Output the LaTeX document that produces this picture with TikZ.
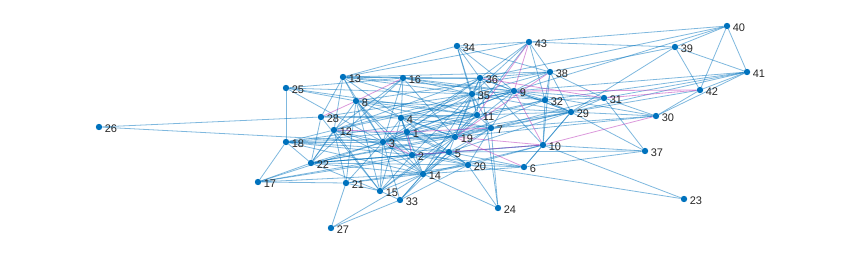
\documentclass[tikz,border=0pt]{standalone}
\usepackage{fontspec}
\setmainfont{Liberation Sans}
\usetikzlibrary{backgrounds}
\definecolor{nodeblue}{RGB}{0,114,189}
\definecolor{edgemag}{RGB}{190,70,190}
\begin{document}
\begin{tikzpicture}[x=1pt,y=-1pt,
  vtx/.style={circle,fill=nodeblue,inner sep=0pt,minimum size=6.4pt},
  lab/.style={font=\fontsize{11}{12}\selectfont,inner sep=0pt,anchor=west,text=black!85},
  edge/.style={draw=nodeblue,line width=0.8pt,draw opacity=0.5},
  medge/.style={draw=edgemag,line width=0.8pt,draw opacity=0.55}]
\useasboundingbox (0,0) rectangle (846,259);
\foreach \n/\x/\y in {1/407/132, 2/412/155, 3/383/142, 4/401/118, 5/449/152, 6/524/167,
  7/491/128, 8/356/101, 9/514/91, 10/543/145, 11/477/115, 12/334/130, 13/343/77,
  14/423/174, 15/380/191, 16/403/78, 17/258/182, 18/286/142, 19/455/137, 20/468/165,
  21/346/183, 22/311/163, 23/684/199, 24/498/208, 25/286/88, 26/99/127, 27/331/228,
  28/321/117, 29/571/112, 30/656/116, 31/604/98, 32/545/100, 33/400/200, 34/457/46,
  35/472/94, 36/480/78, 37/645/151, 38/550/72, 39/675/47, 40/727/26, 41/747/72,
  42/700/90, 43/529/42}{
  \node[vtx] (n\n) at (\x,\y) {};
  \node[lab] (l\n) at (\x+5.6,\y+1.4) {\n};
}
\begin{pgfonlayer}{background}
\foreach \a/\b in {26/28, 3/26,
  17/18, 17/22, 2/17, 14/17, 5/17, 3/17, 17/21,
  27/21, 27/33, 27/14,
  25/18, 25/35, 25/16, 25/8, 25/11, 25/3,
  34/43, 34/36, 34/35, 34/11, 34/38, 13/34, 34/9,
  43/40, 43/39, 43/38, 43/36, 43/35, 43/13, 43/19, 43/32,
  40/39, 40/41, 40/42, 40/36, 40/9,
  39/38, 39/42, 39/41, 39/29,
  41/42, 41/30, 41/29, 41/31, 41/32, 41/9,
  42/30, 42/29,
  30/29, 30/31, 30/19, 30/7, 30/9,
  37/29, 37/31, 37/6, 37/10, 37/5,
  23/10, 23/20,
  24/7, 24/14, 24/20, 24/36,
  38/36, 38/9, 38/32, 38/29, 38/13, 38/35, 38/8, 38/10, 38/31,
  13/16, 13/8, 13/28, 13/12, 13/3, 13/36, 13/35, 13/9, 13/4, 13/11,
  16/36, 16/35, 16/9, 16/3, 16/12, 16/4, 16/19, 16/32, 16/22,
  8/3, 8/15, 8/14, 8/2, 8/21, 8/22, 8/19, 8/11, 8/7, 8/29,
  28/22, 28/15, 28/4, 28/35, 28/11,
  12/18, 12/22, 12/21, 12/3, 12/2, 12/14, 12/15, 12/19, 12/35, 12/36, 12/9,
  18/22, 18/3, 18/2, 18/5, 18/19, 18/1, 18/14, 18/11,
  22/3, 22/2, 22/14, 22/5, 22/20, 22/19, 22/15, 22/10, 22/7,
  21/15, 21/3, 21/14, 21/20,
  15/33, 15/3, 15/4, 15/14, 15/2, 15/19, 15/11,
  33/14, 33/3, 33/5, 33/20, 33/19,
  14/2, 14/3, 14/5, 14/19, 14/20, 14/6, 14/10, 14/35, 14/7, 14/4,
  2/19, 2/20, 2/4, 2/6, 2/10, 2/35,
  3/1, 3/4, 3/19, 3/5, 3/20, 3/11, 3/35, 3/36, 3/9, 3/32, 3/29, 3/7,
  1/4, 1/19, 1/5, 1/9, 1/36, 1/11, 1/20,
  4/19, 4/11, 4/35, 4/9, 4/7, 4/20,
  5/19, 5/20, 5/6, 5/7, 5/29,
  19/11, 19/35, 19/36, 19/9, 19/7, 19/29, 19/32,
  20/6, 20/10, 20/7,
  6/10, 6/29,
  10/29, 10/32, 10/36,
  7/11, 7/29, 7/31, 7/9, 7/35,
  11/35, 11/29, 11/32, 11/36,
  35/36, 35/9, 35/32, 35/29,
  36/9, 36/29,
  9/32, 9/29, 9/31,
  32/29, 32/31,
  29/31}{
  \draw[edge] (n\a) -- (n\b);
}
\foreach \a/\b in {28/8, 8/16, 12/1, 1/2, 3/2, 2/5, 1/7, 5/10, 19/10, 10/30, 19/6,
  9/43, 11/43, 36/31, 9/42, 31/42, 38/19, 9/10}{
  \draw[medge] (n\a) -- (n\b);
}
\end{pgfonlayer}
\end{tikzpicture}
\end{document}
